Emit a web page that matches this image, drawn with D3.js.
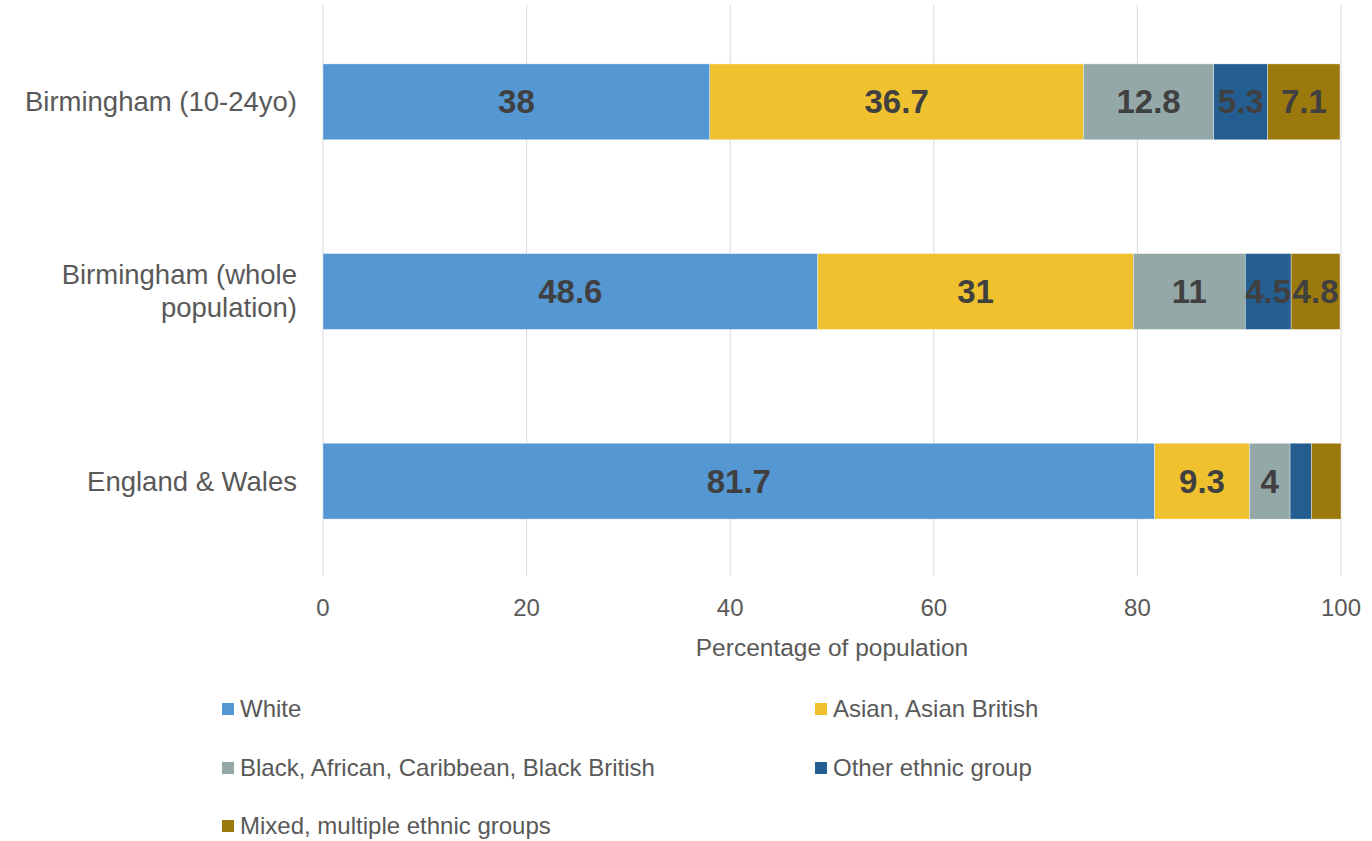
<!DOCTYPE html>
<html>
<head>
<meta charset="utf-8">
<script src="https://cdn.jsdelivr.net/npm/d3@7"></script>
<style>
  body { margin: 0; background: #fff; }
  svg { display: block; font-family: "Liberation Sans", Arial, sans-serif; }
</style>
</head>
<body>
<div id="container"></div>
<script>
// data
const categories = ['Birmingham (10-24yo)', 'Birmingham (whole population)', 'England & Wales']
const groups = ['White', 'Asian, Asian British', 'Black, African, Caribbean, Black British', 'Other ethnic group', 'Mixed, multiple ethnic groups']
const white = [38, 48.6, 81.7]
const asian = [36.7, 31, 9.3]
const black = [12.8, 11, 4]
const other = [5.3, 4.5, 2.1]
const mixed = [7.1, 4.8, 2.9]
const ticks = [0, 20, 40, 60, 80, 100]
const colors = ['#5597d3', '#efc12e', '#94a8a8', '#245d8f', '#9b790d']

const width = 1372
const height = 841
const margin = { top: 7, right: 31, bottom: 265, left: 323 }

const rows = categories.map((c, i) => ({
  category: c,
  'White': white[i],
  'Asian, Asian British': asian[i],
  'Black, African, Caribbean, Black British': black[i],
  'Other ethnic group': other[i],
  'Mixed, multiple ethnic groups': mixed[i]
}))

const series = d3.stack().keys(groups)(rows)

const x = d3.scaleLinear().domain([0, 100]).range([margin.left, width - margin.right])
const y = d3.scaleBand().domain(categories).range([margin.top, height - margin.bottom])
  .paddingInner(0.6).paddingOuter(0.3)

const svg = d3.select('#container')
  .append('svg')
  .attr('width', width)
  .attr('height', height)

// gridlines
svg.append('g')
  .selectAll('line')
  .data(ticks)
  .enter().append('line')
  .attr('x1', d => x(d)).attr('x2', d => x(d))
  .attr('y1', 5).attr('y2', 576)
  .style('stroke', '#d9d9d9')
  .style('stroke-width', 1)

// bars
const layer = svg.append('g')
  .selectAll('g')
  .data(series)
  .enter().append('g')
  .style('fill', (d, i) => colors[i])

layer.selectAll('rect')
  .data(d => d)
  .enter().append('rect')
  .attr('x', d => x(d[0]))
  .attr('y', d => y(d.data.category))
  .attr('width', d => x(d[1]) - x(d[0]))
  .attr('height', y.bandwidth())
  .style('stroke', '#fff')
  .style('stroke-width', 0.6)
  .style('stroke-opacity', 0.6)

// data labels (small segments of the last row are not labelled)
layer.selectAll('text')
  .data(d => d.map(p => ({ p: p, v: p[1] - p[0] })))
  .enter().filter(d => d.v >= 3).append('text')
  .attr('x', d => (x(d.p[0]) + x(d.p[1])) / 2)
  .attr('y', d => y(d.p.data.category) + y.bandwidth() / 2)
  .attr('dy', '0.35em')
  .attr('text-anchor', 'middle')
  .style('fill', '#404040')
  .style('font-size', '33px')
  .style('font-weight', 'bold')
  .text(d => Math.round(d.v * 10) / 10)

// category labels
const catLabel = svg.append('g')
  .selectAll('text')
  .data(categories)
  .enter().append('text')
  .attr('text-anchor', 'end')
  .style('fill', '#595959')
  .style('font-size', '27.5px')

catLabel.each(function (d) {
  const t = d3.select(this)
  const cy = y(d) + y.bandwidth() / 2
  if (d === 'Birmingham (whole population)') {
    t.append('tspan').attr('x', 297).attr('y', cy - 17).attr('dy', '0.35em').text('Birmingham (whole')
    t.append('tspan').attr('x', 297).attr('y', cy + 16).attr('dy', '0.35em').text('population)')
  } else {
    t.append('tspan').attr('x', 297).attr('y', cy).attr('dy', '0.35em').text(d)
  }
})

// x axis tick labels
svg.append('g')
  .selectAll('text')
  .data(ticks)
  .enter().append('text')
  .attr('x', d => x(d))
  .attr('y', 608)
  .attr('dy', '0.35em')
  .attr('text-anchor', 'middle')
  .style('fill', '#595959')
  .style('font-size', '24px')
  .text(d => d)

svg.append('text')
  .attr('x', (x(0) + x(100)) / 2)
  .attr('y', 647)
  .attr('dy', '0.35em')
  .attr('text-anchor', 'middle')
  .style('fill', '#595959')
  .style('font-size', '24.5px')
  .text('Percentage of population')

// legend
const legendPos = [[222, 709], [815, 709], [222, 768], [815, 768], [222, 826]]
const legend = svg.append('g')
  .selectAll('g')
  .data(groups)
  .enter().append('g')
  .attr('transform', (d, i) => 'translate(' + legendPos[i][0] + ', ' + legendPos[i][1] + ')')

legend.append('rect')
  .attr('x', 0).attr('y', -6)
  .attr('width', 12).attr('height', 12)
  .style('fill', (d, i) => colors[i])

legend.append('text')
  .attr('x', 18)
  .attr('dy', '0.35em')
  .style('fill', '#595959')
  .style('font-size', '24px')
  .text(d => d)
</script>
</body>
</html>
